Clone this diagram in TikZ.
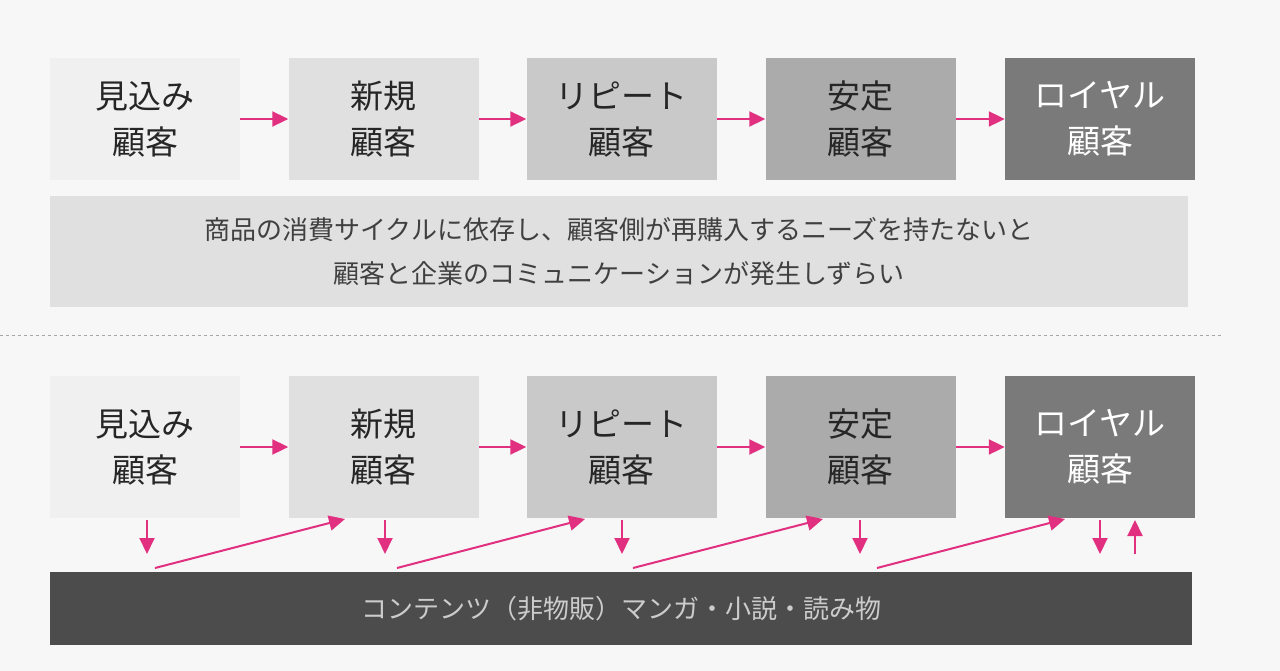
\documentclass[tikz,border=0pt]{standalone}
\usepackage{fontspec}
\setmainfont{Noto Sans CJK JP}
\usetikzlibrary{arrows.meta}
\definecolor{pk}{HTML}{E0307F}
\begin{document}
\begin{tikzpicture}[x=1pt,y=-1pt,
 box/.style={minimum width=190pt,minimum height=#1,inner sep=0pt,align=center,font=\fontsize{33}{46}\selectfont,text=black!85},
 ar/.style={pk,line width=2pt,-{Triangle[length=16pt,width=15pt]}}]
\fill[black!3] (0,0) rectangle (1280,671);
\useasboundingbox (0,0) rectangle (1280,671);
\foreach \r/\y/\h in {t/119/122,b/447/142}{
\node[box=\h,fill=black!6] (\r1) at (145,\y) {見込み\\顧客};
\node[box=\h,fill=black!12] (\r2) at (383.5,\y) {新規\\顧客};
\node[box=\h,fill=black!21] (\r3) at (621.5,\y) {リピート\\顧客};
\node[box=\h,fill=black!33] (\r4) at (860.5,\y) {安定\\顧客};
\node[box=\h,fill=black!52,text=white] (\r5) at (1100,\y) {ロイヤル\\顧客};
\foreach \a/\b in {1/2,2/3,3/4,4/5}{\draw[ar] (\r\a.east) ++(0,0) -- (\r\b.west);}
}
\node[fill=black!12,minimum width=1138pt,minimum height=111pt,align=center,font=\fontsize{26}{44}\selectfont,text=black!75] (desc) at (619,251.5) {商品の消費サイクルに依存し、顧客側が再購入するニーズを持たないと\\顧客と企業のコミュニケーションが発生しずらい};
\coordinate (d0) at (0,335); \coordinate (d1) at (1222,335);
\draw[black!35,dashed,line width=0.8pt] (d0) -- (d1);
\node[fill=black!70,minimum width=1142pt,minimum height=73pt,font=\fontsize{26}{30}\selectfont,text=black!20] (bar) at (621,608.5) {コンテンツ（非物販）マンガ・小説・読み物};
\foreach \i/\x in {1/147,2/385,3/622,4/860,5/1100}{
 \coordinate (s\i) at (\x,520); \coordinate (e\i) at (\x,554);
 \draw[ar] (s\i) -- (e\i);}
\coordinate (us) at (1135,554); \coordinate (ue) at (1135,520);
\draw[ar] (us) -- (ue);
\foreach \x/\y in {155/345,397/585,633/823,877/1065}{
 \coordinate (p\x) at (\x,568); \coordinate (q\x) at (\y,519);
 \draw[ar] (p\x) -- (q\x);}
\end{tikzpicture}
\end{document}
